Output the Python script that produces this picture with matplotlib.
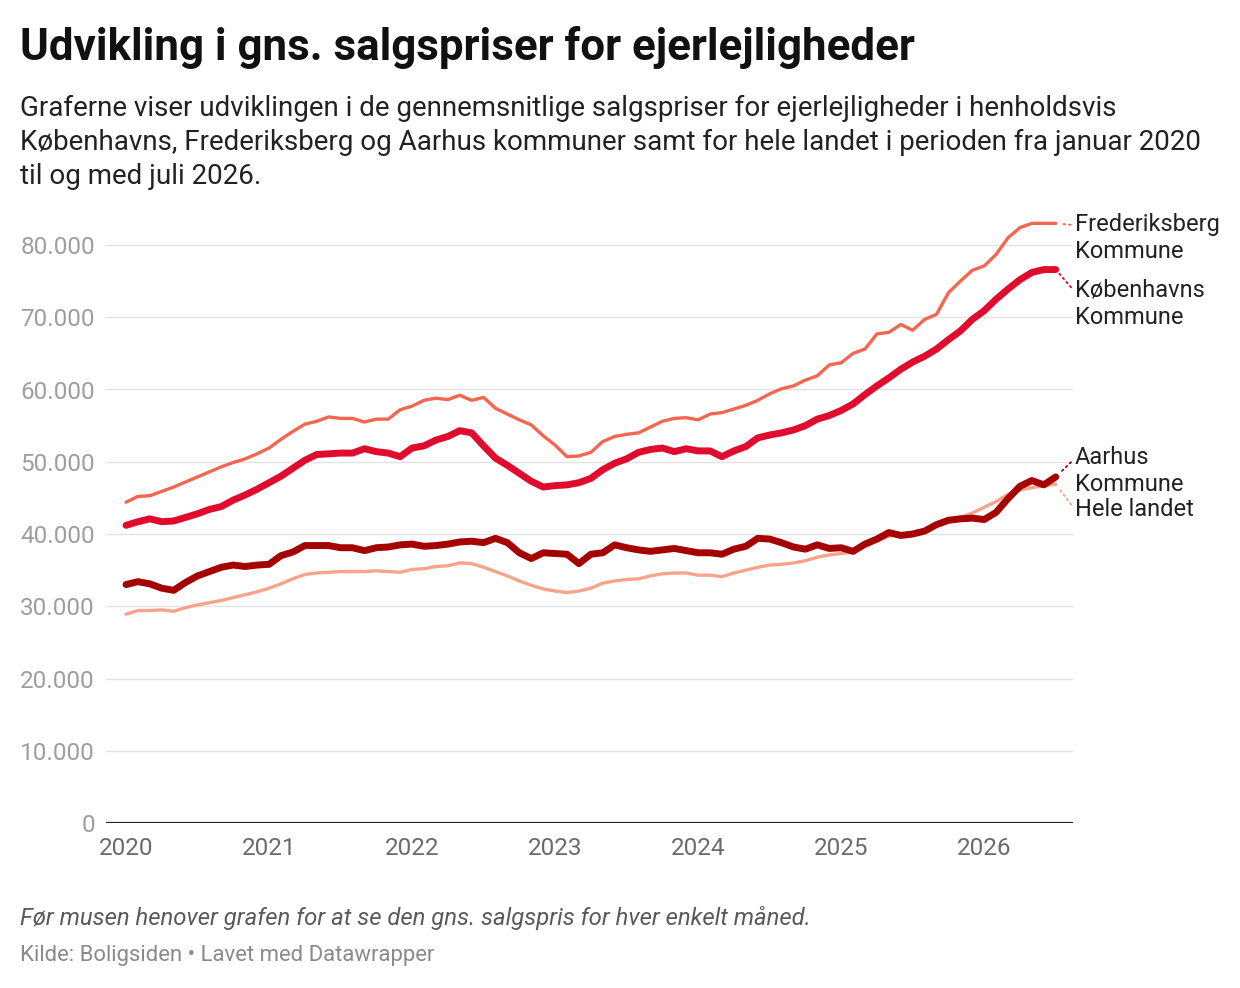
import numpy as np
import matplotlib
matplotlib.use("Agg")
import matplotlib.pyplot as plt
from matplotlib.ticker import FuncFormatter

plt.rcParams['font.family'] = ['Roboto', 'DejaVu Sans']

# maanedlige gennemsnitspriser, januar 2020 - juli 2026
years = ["2020", "2021", "2022", "2023", "2024", "2025", "2026"]

frederiksberg = [
    44400, 45200, 45300, 45900, 46500, 47200, 47900, 48600, 49300, 49900, 50400, 51100,
    51900, 53100, 54200, 55200, 55600, 56200, 56000, 56000, 55500, 55900, 55900, 57200,
    57700, 58500, 58800, 58600, 59200, 58500, 58900, 57400, 56600, 55800, 55100, 53600,
    52300, 50700, 50800, 51300, 52800, 53500, 53800, 54000, 54800, 55600, 56000, 56100,
    55800, 56600, 56800, 57300, 57800, 58500, 59400, 60100, 60500, 61300, 61900, 63400,
    63700, 65000, 65600, 67700, 67900, 69000, 68200, 69700, 70400, 73400, 75000, 76500,
    77100, 78700, 81000, 82400, 83000, 83000, 83000]

koebenhavn = [
    41200, 41700, 42100, 41700, 41800, 42300, 42800, 43400, 43800, 44700, 45400, 46200,
    47100, 48000, 49100, 50200, 51000, 51100, 51200, 51200, 51800, 51400, 51200, 50700,
    51900, 52200, 53000, 53500, 54300, 54000, 52200, 50500, 49500, 48400, 47300, 46500,
    46700, 46800, 47100, 47700, 48900, 49800, 50400, 51300, 51700, 51900, 51400, 51800,
    51500, 51500, 50700, 51500, 52100, 53300, 53700, 54000, 54400, 55000, 55900, 56400,
    57100, 58000, 59300, 60500, 61600, 62800, 63800, 64600, 65600, 66900, 68100, 69700,
    70900, 72500, 73900, 75200, 76200, 76600, 76600]

aarhus = [
    33000, 33400, 33100, 32500, 32200, 33300, 34200, 34800, 35400, 35700, 35500, 35700,
    35800, 37000, 37500, 38400, 38400, 38400, 38100, 38100, 37700, 38100, 38200, 38500,
    38600, 38300, 38400, 38600, 38900, 39000, 38800, 39400, 38800, 37400, 36600, 37400,
    37300, 37200, 35900, 37200, 37400, 38500, 38100, 37800, 37600, 37800, 38000, 37700,
    37400, 37400, 37200, 37900, 38300, 39400, 39300, 38800, 38200, 37900, 38500, 38000,
    38100, 37600, 38600, 39300, 40200, 39800, 40000, 40400, 41300, 41900, 42100, 42200,
    42000, 43000, 44900, 46600, 47400, 46800, 47900]

hele_landet = [
    28900, 29400, 29400, 29500, 29300, 29800, 30200, 30500, 30800, 31200, 31600, 32000,
    32500, 33100, 33800, 34400, 34600, 34700, 34800, 34800, 34800, 34900, 34800, 34700,
    35100, 35200, 35500, 35600, 36000, 35900, 35400, 34800, 34200, 33500, 32900, 32400,
    32100, 31900, 32100, 32500, 33200, 33500, 33700, 33800, 34200, 34500, 34600, 34600,
    34300, 34300, 34100, 34600, 35000, 35400, 35700, 35800, 36000, 36300, 36800, 37100,
    37300, 37500, 38300, 39000, 39700, 39900, 40200, 40600, 41200, 41800, 42300, 42900,
    43700, 44500, 45500, 46100, 46400, 46700, 46900]

# serie: (data, farve, linjebredde, etiket, etikettens y, relpos)
series = [
    (hele_landet, "#f9a38b", 2.4, "Hele landet", 43400, (0, 0.5)),
    (aarhus, "#a50303", 5.0, "Aarhus\nKommune", 48700, (0, 0.75)),
    (frederiksberg, "#f3664f", 2.4, "Frederiksberg\nKommune", 81000, (0, 0.75)),
    (koebenhavn, "#e00b2d", 5.0, "Københavns\nKommune", 71800, (0, 0.75)),
]

W, H = 1240, 988
fig = plt.figure(figsize=(W / 100, H / 100), dpi=100)
fig.patch.set_facecolor("white")

ymax = 85000
ax_left, ax_right, ax_bottom = 106, 1073, 823
ax_top = ax_bottom - ymax / 10000 * 72.25
ax = fig.add_axes([ax_left / W, (H - ax_bottom) / H,
                   (ax_right - ax_left) / W, (ax_bottom - ax_top) / H])

x = np.arange(len(koebenhavn))
for values, color, lw, label, label_y, relpos in series:
    ax.plot(x, values, color=color, lw=lw, solid_capstyle="round",
            solid_joinstyle="round", zorder=3)
    ax.annotate(label, xy=(x[-1], values[-1]), xytext=(79.6, label_y),
                textcoords="data", ha="left", va="center", fontsize=17,
                color="#222222", linespacing=1.25, annotation_clip=False,
                arrowprops=dict(arrowstyle="-", linestyle=(0, (1, 2)),
                                color=color, lw=1.3, relpos=relpos,
                                shrinkA=1, shrinkB=4))

ax.set_xlim(-1.68, 79.45)
ax.set_ylim(0, ymax)

ax.set_yticks(np.arange(0, 80001, 10000))
ax.yaxis.set_major_formatter(FuncFormatter(lambda v, p: f"{int(v):,}".replace(",", ".")))
ax.set_xticks(np.arange(0, len(years) * 12, 12))
ax.set_xticklabels(years)

ax.grid(axis="y", color="#e3e3e3", lw=1.0, zorder=0)
ax.axhline(0, color="#222222", lw=1.6, zorder=4)
for s in ax.spines.values():
    s.set_visible(False)
ax.tick_params(axis="y", length=0, pad=8, labelsize=17.5, labelcolor="#9e9e9e")
ax.tick_params(axis="x", length=0, pad=10, labelsize=17.5, labelcolor="#6b6b6b")
ax.set_facecolor("none")

# tekster
fig.text(20 / W, 1 - 60 / H, "Udvikling i gns. salgspriser for ejerlejligheder",
         fontsize=31.6, fontweight="bold", color="#111111", va="baseline")
subtitle = [
    "Graferne viser udviklingen i de gennemsnitlige salgspriser for ejerlejligheder i henholdsvis",
    "Københavns, Frederiksberg og Aarhus kommuner samt for hele landet i perioden fra januar 2020",
    "til og med juli 2026.",
]
for k, line in enumerate(subtitle):
    fig.text(20 / W, 1 - (116 + 34 * k) / H, line, fontsize=20,
             color="#222222", va="baseline")

fig.text(20 / W, 1 - 925 / H,
         "Før musen henover grafen for at se den gns. salgspris for hver enkelt måned.",
         fontsize=17.2, style="italic", color="#5a5a5a", va="baseline")
fig.text(20 / W, 1 - 961 / H, "Kilde: Boligsiden • Lavet med Datawrapper",
         fontsize=15.9, color="#8a8a8a", va="baseline")

fig.savefig("out.png", dpi=100, facecolor="white")
